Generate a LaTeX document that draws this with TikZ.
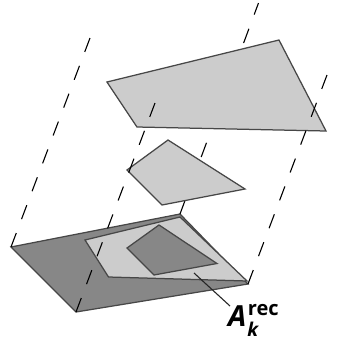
\documentclass[tikz,border=0pt]{standalone}
\usepackage{fontspec}
\setmainfont{Open Sans}
\tikzset{
  plane/.style={draw=black!72,line width=1.25pt,line join=miter,fill=#1},
  guide/.style={draw=black,line width=1.1pt,dash pattern=on 14.9pt off 14.9pt},
  backguide/.style={draw=black,line width=1.1pt,dash pattern=on 15.2pt off 15.2pt},
  leader/.style={draw=black!85,line width=1.1pt},
  caption/.style={inner sep=0pt,anchor=base west}
}
\begin{document}
\begin{tikzpicture}[x=1pt,y=-1pt]
\useasboundingbox (0,0) rectangle (337,338);
\coordinate (b1) at (11,247);
\coordinate (b2) at (76,312);
\coordinate (b3) at (248,284);
\coordinate (b4) at (180,214);
\coordinate (t1) at (90,38);
\coordinate (t2) at (155,103);
\coordinate (t3) at (327,75);
\coordinate (t4) at (258.5,3);
\coordinate (la) at (194,273);
\coordinate (lb) at (230,306);
\draw[plane=black!47] (b1) -- (b4) -- (b3) -- (b2) -- cycle;
\draw[plane=black!20] (85,240) -- (108.5,277) -- (247,281) -- (180,217) -- cycle;
\draw[plane=black!47] (127,248) -- (159,225) -- (217,263.5) -- (154,275) -- cycle;
\draw[backguide] (b4) -- (t4);
\draw[plane=black!20] (127,170) -- (168,140) -- (245,189) -- (162,205) -- cycle;
\draw[plane=black!20] (107,82) -- (279,40) -- (326,131) -- (137,127) -- cycle;
\draw[guide] (b1) -- (t1);
\draw[guide] (b2) -- (t2);
\draw[guide] (b3) -- (t3);
\draw[leader] (la) -- (lb);
\node[caption] (lbl) at (228,326) {\fontsize{29}{29}\selectfont\bfseries\itshape A\rlap{\raisebox{11pt}{\hspace{1.5pt}\fontsize{20}{20}\selectfont\upshape rec}}\raisebox{-10pt}{\hspace{1pt}\fontsize{19}{19}\selectfont k}};
\end{tikzpicture}
\end{document}
